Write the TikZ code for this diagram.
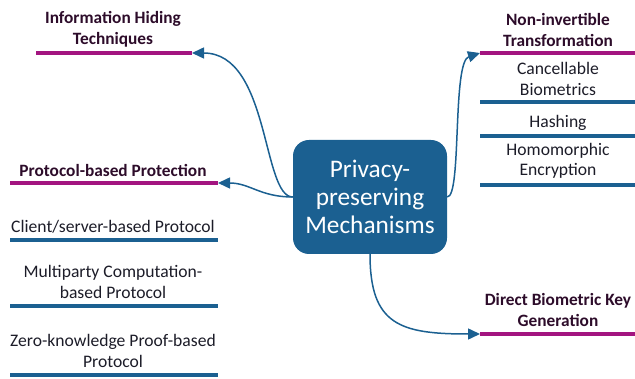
\documentclass[tikz,border=0pt]{standalone}
\usepackage{fontspec}
\setmainfont{Carlito}
\usepackage{xcolor}
\usetikzlibrary{arrows.meta, positioning}
\definecolor{ppblue}{RGB}{27,96,145}
\definecolor{ppmagenta}{RGB}{163,21,128}
\definecolor{pphead}{RGB}{45,12,42}
\definecolor{pptext}{RGB}{28,28,40}

\begin{document}
\begin{tikzpicture}[x=1pt, y=-1pt,
    headtxt/.style={font=\fontsize{17.3}{21}\selectfont\bfseries, text=pphead, align=center, inner sep=0pt},
    subtxt/.style={font=\fontsize{17.6}{20.5}\selectfont, text=pptext, align=center, inner sep=0pt},
    headline/.style={ppmagenta, line width=4pt},
    subline/.style={ppblue, line width=4pt},
    link/.style={ppblue, line width=1.5pt, -{Triangle[length=12pt, width=11pt]}}]
    \useasboundingbox (0,0) rectangle (635,379);
    % centre
    \node[fill=ppblue, rounded corners=16pt, minimum width=154pt, minimum height=114pt,
        text=white, align=center, font=\fontsize{25.3}{28}\selectfont] (ppm) at (370,197)
        {Privacy-\\preserving\\Mechanisms};
    % information hiding
    \node[headtxt] (ih) at (113,29) {Information Hiding\\Techniques};
    \coordinate (ihend) at (192,53);
    \draw[headline] (36,53) -- (ihend);
    % protocol based
    \node[headtxt] (pb) at (113,170) {Protocol-based Protection};
    \coordinate (pbend) at (218,183);
    \draw[headline] (10,183) -- (pbend);
    \node[subtxt] (cs) at (113,227) {Client/server-based Protocol};
    \draw[subline] (10,240.5) -- (218,240.5);
    \node[subtxt] (mc) at (113,282) {Multiparty Computation-\\based Protocol};
    \draw[subline] (10,306) -- (218,306);
    \node[subtxt] (zk) at (113,351) {Zero-knowledge Proof-based\\Protocol};
    \draw[subline] (10,375) -- (218,375);
    % non-invertible
    \node[headtxt] (ni) at (558,30) {Non-invertible\\Transformation};
    \coordinate (niend) at (480,53);
    \draw[headline] (niend) -- (635,53);
    \node[subtxt] (cb) at (558,79) {Cancellable\\Biometrics};
    \draw[subline] (480,102.5) -- (635,102.5);
    \node[subtxt] (ha) at (558,123) {Hashing};
    \draw[subline] (480,136) -- (635,136);
    \node[subtxt] (he) at (558,161) {Homomorphic\\Encryption};
    \draw[subline] (480,185) -- (635,185);
    % direct key
    \node[headtxt] (dk) at (558,310) {Direct Biometric Key\\Generation};
    \coordinate (dkend) at (480,334);
    \draw[headline] (dkend) -- (635,334);
    % links
    \draw[link] (ppm.west) .. controls (262,197) and (270,53) .. (ihend);
    \draw[link] (ppm.west) .. controls (260,197) and (250,183) .. (pbend);
    \draw[link] (ppm.east) .. controls (462,197) and (452,62) .. (niend);
    \draw[link] (ppm.south) .. controls (370,325) and (400,334) .. (dkend);
\end{tikzpicture}
\end{document}
